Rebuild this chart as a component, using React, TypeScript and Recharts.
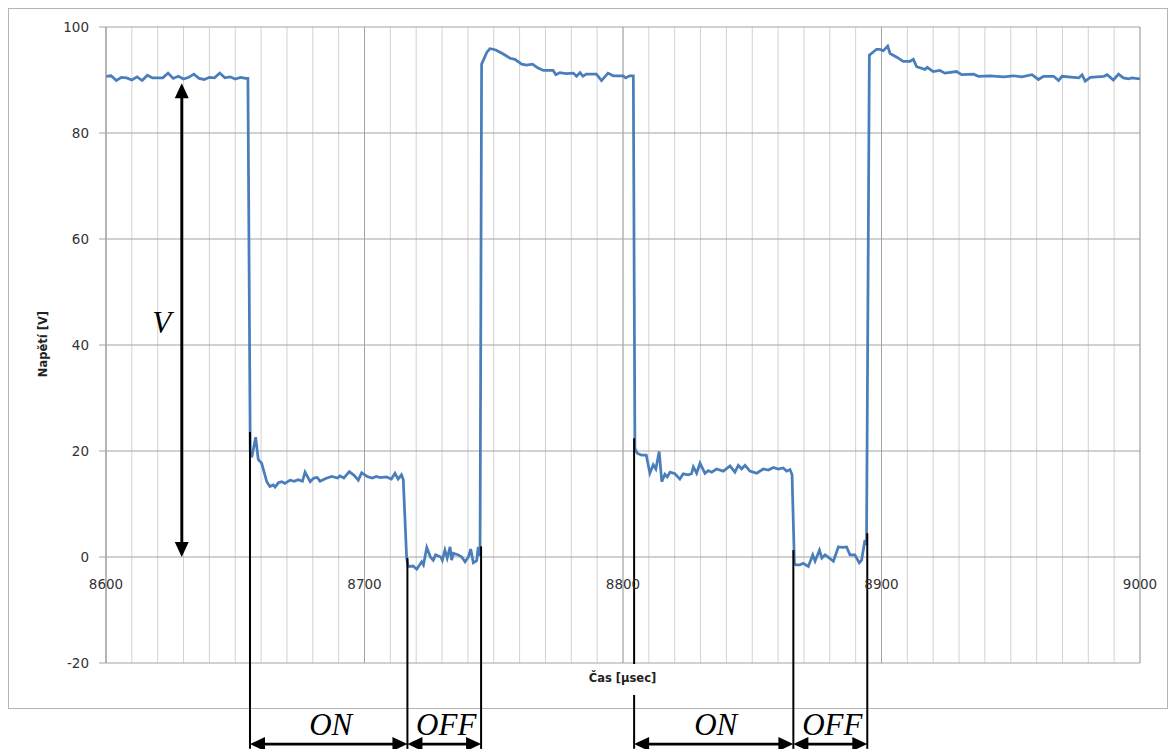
import React from 'react';
import { LineChart, Line, XAxis, YAxis, CartesianGrid, ReferenceLine } from 'recharts';

// measured waveform: time [µs] and voltage [V]
const times = [
  8600, 8602, 8604, 8606, 8608, 8610, 8612, 8614, 8616, 8618,
  8620, 8622, 8624, 8626, 8628, 8630, 8632, 8634, 8636, 8638,
  8640, 8642, 8644, 8646, 8648, 8650, 8652, 8654, 8654.9, 8655.8,
  8656.4, 8657.9, 8658.9, 8660.2, 8662.2, 8663.4, 8664.7, 8665.4, 8666.7, 8668.0,
  8669.2, 8671.2, 8672.8, 8674.3, 8676.0, 8677.0, 8679.0, 8680.4, 8681.7, 8682.8,
  8685.0, 8687.3, 8689.6, 8690.5, 8692.0, 8694.1, 8696.0, 8697.6, 8698.9, 8701.0,
  8703.0, 8704.6, 8706.0, 8708.5, 8710.4, 8711.8, 8713.0, 8714.3, 8715.0, 8716.3,
  8716.9, 8718.8, 8720.2, 8722.1, 8722.8, 8724.1, 8725.5, 8726.6, 8727.5, 8729.5,
  8730.1, 8731.1, 8732.0, 8733.1, 8733.7, 8734.4, 8736.3, 8737.6, 8738.9, 8740.2,
  8741.1, 8742.1, 8743.4, 8744.0, 8744.7, 8745.3, 8747.3, 8748.5, 8749.8, 8751.0,
  8753.7, 8756.3, 8758.2, 8760.8, 8762.7, 8765.0, 8767.0, 8769.2, 8773.0, 8774.0,
  8775.6, 8778.0, 8780.8, 8782.0, 8783.4, 8784.5, 8785.8, 8789.7, 8791.7, 8794.2,
  8796.2, 8800.0, 8801.0, 8802.6, 8804.0, 8804.6, 8805.5, 8807.2, 8809.0, 8810.4,
  8811.7, 8812.7, 8814.0, 8815.0, 8816.2, 8817.1, 8818.2, 8820.1, 8822.0, 8823.3,
  8825.2, 8826.5, 8827.2, 8828.5, 8829.8, 8831.7, 8833.0, 8834.3, 8836.2, 8838.8,
  8841.4, 8843.3, 8844.6, 8845.9, 8847.2, 8849.1, 8851.7, 8854.3, 8856.2, 8858.2,
  8860.1, 8862.0, 8863.3, 8864.6, 8865.4, 8866.3, 8866.9, 8868.4, 8869.7, 8871.7,
  8873.4, 8874.3, 8876.0, 8876.9, 8878.2, 8880.1, 8881.4, 8883.3, 8885.2, 8886.5,
  8887.8, 8889.7, 8891.4, 8892.3, 8893.6, 8894.2, 8895.3, 8898.1, 8899.4, 8900.6,
  8902.4, 8903.3, 8905.9, 8908.4, 8911.0, 8912.3, 8913.6, 8916.8, 8917.7, 8920.0,
  8922.6, 8924.5, 8929.0, 8931.0, 8935.6, 8937.5, 8942.0, 8947.2, 8951.0, 8954.3,
  8958.2, 8960.7, 8962.7, 8966.6, 8968.5, 8969.8, 8974.3, 8976.3, 8977.6, 8978.8,
  8980.8, 8986.0, 8987.3, 8989.7, 8991.7, 8993.6, 8995.5, 8996.8, 9000.0,
];

const volts = [
  90.7, 90.8, 89.9, 90.5, 90.4, 90.0, 90.6, 89.9, 90.9, 90.4,
  90.4, 90.4, 91.3, 90.3, 90.7, 90.2, 90.5, 91.1, 90.3, 90.1,
  90.5, 90.4, 91.3, 90.4, 90.6, 90.2, 90.5, 90.3, 90.3, 20.0,
  18.8, 22.6, 18.4, 17.7, 14.2, 13.3, 13.6, 13.2, 14.0, 14.2,
  13.9, 14.5, 14.3, 14.6, 14.3, 16.0, 14.2, 14.9, 15.0, 14.3,
  14.8, 15.2, 14.9, 15.3, 14.9, 16.1, 15.4, 14.5, 15.9, 15.2,
  14.9, 15.2, 15.0, 15.1, 14.7, 15.8, 14.7, 15.5, 14.6, -0.2,
  -1.8, -1.7, -2.3, -0.9, -1.5, 1.8, 0.0, -0.6, 0.4, 0.0,
  -0.6, 1.3, -0.2, 1.9, -0.6, 0.7, 0.4, 0.0, -0.9, 0.0,
  1.5, -1.1, -0.7, 1.9, 0.2, 93.0, 95.2, 95.9, 95.8, 95.6,
  94.9, 94.1, 93.9, 93.0, 92.8, 93.0, 92.3, 91.8, 91.8, 91.0,
  91.4, 91.2, 91.3, 90.7, 91.4, 90.7, 91.1, 91.1, 89.9, 91.3,
  90.8, 90.8, 90.4, 90.8, 90.8, 20.5, 19.6, 19.2, 19.2, 15.8,
  17.4, 16.6, 19.9, 14.2, 15.6, 15.1, 16.0, 15.7, 14.7, 15.7,
  15.5, 15.7, 17.0, 15.8, 17.7, 15.8, 16.3, 16.0, 16.6, 16.2,
  17.2, 16.0, 17.3, 16.6, 17.3, 16.2, 15.8, 16.6, 16.4, 16.9,
  16.6, 16.8, 16.2, 16.5, 15.5, -1.2, -1.5, -1.5, -1.2, -1.8,
  0.4, -0.8, 1.3, -0.2, 0.4, -0.3, -0.8, 1.9, 1.8, 1.9,
  0.4, 0.4, -1.1, -0.6, 3.2, 2.3, 94.7, 95.8, 95.8, 95.5,
  96.4, 95.0, 94.3, 93.5, 93.5, 93.9, 92.5, 92.0, 92.4, 91.6,
  91.8, 91.3, 91.6, 91.0, 91.1, 90.7, 90.8, 90.6, 90.8, 90.6,
  91.0, 90.1, 90.7, 90.7, 89.9, 90.7, 90.5, 90.4, 91.0, 89.8,
  90.5, 90.7, 91.0, 90.0, 91.1, 90.4, 90.2, 90.4, 90.2,
];

const minorTicks = [
  8600, 8610, 8620, 8630, 8640, 8650, 8660, 8670, 8680, 8690,
  8700, 8710, 8720, 8730, 8740, 8750, 8760, 8770, 8780, 8790,
  8800, 8810, 8820, 8830, 8840, 8850, 8860, 8870, 8880, 8890,
  8900, 8910, 8920, 8930, 8940, 8950, 8960, 8970, 8980, 8990, 9000,
];
const majorTicks = [8600, 8700, 8800, 8900, 9000];
const voltTicks = [-20, 0, 20, 40, 60, 80, 100];

// hand-drawn annotations: switching edges, ON/OFF spans, amplitude arrow
const edgeTimes = [8655.7, 8716.6, 8745.1, 8804.3, 8865.9, 8894.5];
const edgeTops = [23.6, -0.2, 2.0, 22.4, 1.3, 4.5];
const spanFrom = [0, 1, 3, 4];
const spanTo = [1, 2, 4, 5];
const spanLabels = ['ON', 'OFF', 'ON', 'OFF'];
const markBottom = -36.2;
const spanLevel = -35.3;
const ampTime = 8629.3;
const ampTop = 89.4;
const ampBottom = 0;

const data = times.map((t, i) => ({ t, v: volts[i] }));

const W = 1176;
const H = 749;
const PLOT_TOP = 27;
const PLOT_BOTTOM = 663;
const ZERO_Y = PLOT_TOP + (100 / 120) * (PLOT_BOTTOM - PLOT_TOP);

const GRID_DARK = '#a3a3a3';
const GRID_LIGHT = '#d2d2d2';
const TICK_FONT = { fill: '#333', fontSize: 13.5, fontFamily: 'DejaVu Sans' };

const TimeTick = (props: any) => {
  const { x, payload } = props;
  if (payload.value % 100 !== 0) return <g />;
  return (
    <text x={x} y={ZERO_Y + 27} dy="0.355em" textAnchor="middle" {...TICK_FONT}>
      {payload.value}
    </text>
  );
};

const DoubleArrow = (props: any) => {
  const { x1, y1, x2, y2, text, side } = props;
  const len = Math.hypot(x2 - x1, y2 - y1) || 1;
  const ux = (x2 - x1) / len;
  const uy = (y2 - y1) / len;
  const nx = -uy;
  const ny = ux;
  const L = 15;
  const HW = 7;
  const head = (tx: number, ty: number, s: number) => {
    const bx = tx + s * ux * L;
    const by = ty + s * uy * L;
    return `${tx},${ty} ${bx + nx * HW},${by + ny * HW} ${bx - nx * HW},${by - ny * HW}`;
  };
  const tx = side === 'left' ? (x1 + x2) / 2 - 20 : (x1 + x2) / 2 + 2;
  const ty = side === 'left' ? (y1 + y2) / 2 + 13 : y1 - 9;
  return (
    <g>
      <line
        x1={x1 + ux * L * 0.6}
        y1={y1 + uy * L * 0.6}
        x2={x2 - ux * L * 0.6}
        y2={y2 - uy * L * 0.6}
        stroke="#000"
        strokeWidth={2.8}
      />
      <polygon points={head(x1, y1, 1)} fill="#000" />
      <polygon points={head(x2, y2, -1)} fill="#000" />
      <text
        x={tx}
        y={ty}
        textAnchor="middle"
        fontFamily="Liberation Serif"
        fontStyle="italic"
        fontSize={31}
        fill="#000"
      >
        {text}
      </text>
    </g>
  );
};

const App = () => {
  return (
    <div style={{ position: 'absolute', left: 0, top: 0, width: W, height: H, background: '#fff' }}>
      <div
        style={{
          position: 'absolute',
          left: 8,
          top: 8,
          width: 1160,
          height: 701,
          boxSizing: 'border-box',
          border: '1px solid #b4b4b4',
        }}
      />
      <div style={{ position: 'absolute', left: 0, top: 0 }}>
        <LineChart width={W} height={H} data={data} margin={{ top: 27, right: 36, bottom: 56, left: 0 }}>
          <CartesianGrid horizontal={false} stroke={GRID_LIGHT} />
          <CartesianGrid horizontal={false} verticalValues={majorTicks} stroke={GRID_DARK} />
          <CartesianGrid vertical={false} stroke={GRID_DARK} />
          <XAxis
            dataKey="t"
            type="number"
            domain={[8600, 9000]}
            ticks={minorTicks}
            interval={0}
            axisLine={false}
            tickLine={false}
            tick={TimeTick}
            height={30}
            allowDataOverflow
          />
          <YAxis
            type="number"
            domain={[-20, 100]}
            ticks={voltTicks}
            interval={0}
            width={106}
            tickSize={7}
            tickMargin={10}
            axisLine={{ stroke: GRID_DARK }}
            tickLine={{ stroke: GRID_DARK }}
            tick={TICK_FONT}
            allowDataOverflow
          />
          <Line
            dataKey="v"
            type="linear"
            stroke="#4a7ebb"
            strokeWidth={2.75}
            dot={false}
            isAnimationActive={false}
          />
          {edgeTimes.map((t, i) => (
            <ReferenceLine
              key={`edge-${i}`}
              segment={[
                { x: t, y: edgeTops[i] },
                { x: t, y: markBottom },
              ]}
              stroke="#000"
              strokeWidth={2}
              ifOverflow="visible"
            />
          ))}
          {spanLabels.map((label, i) => (
            <ReferenceLine
              key={`span-${i}`}
              segment={[
                { x: edgeTimes[spanFrom[i]], y: spanLevel },
                { x: edgeTimes[spanTo[i]], y: spanLevel },
              ]}
              ifOverflow="visible"
              shape={(p: any) => <DoubleArrow {...p} text={label} side="above" />}
            />
          ))}
          <ReferenceLine
            segment={[
              { x: ampTime, y: ampTop },
              { x: ampTime, y: ampBottom },
            ]}
            ifOverflow="visible"
            shape={(p: any) => <DoubleArrow {...p} text="V" side="left" />}
          />
        </LineChart>
      </div>
      <div
        style={{
          position: 'absolute',
          left: 42.5,
          top: 344,
          transform: 'translate(-50%, -50%) rotate(-90deg)',
          whiteSpace: 'nowrap',
          fontFamily: 'DejaVu Sans',
          fontWeight: 'bold',
          fontSize: 11.5,
          color: '#222',
        }}
      >
        Napětí [V]
      </div>
      <div
        style={{
          position: 'absolute',
          left: 622.5,
          top: 664,
          height: 31,
          lineHeight: '28px',
          padding: '0 6px',
          transform: 'translateX(-50%)',
          background: '#fff',
          whiteSpace: 'nowrap',
          fontFamily: 'DejaVu Sans',
          fontWeight: 'bold',
          fontSize: 11.5,
          color: '#222',
        }}
      >
        Čas [µsec]
      </div>
    </div>
  );
};

export default App;
